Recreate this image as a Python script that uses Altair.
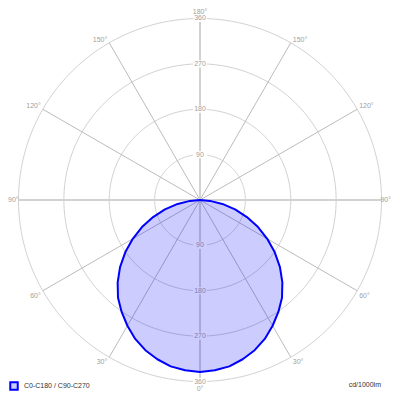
import altair as alt
import pandas as pd

# ---- data ----
gamma = [0, 5, 10, 15, 20, 25, 30, 35, 40, 45, 50, 55, 60, 65, 70, 75, 80, 85, 90]
intensity = [341, 339, 335, 327, 317, 304, 288, 271, 253, 231, 207, 181, 154, 127, 99, 72, 45, 20, 0]
series_name = "C0-C180 / C90-C270"
unit_label = "cd/1000lm"

ring_values = [90, 180, 270, 360]
spoke_thin = [30, 60, 120, 150, 210, 240, 300, 330]
spoke_thick = [0, 90, 180, 270]
label_left_upper = [-150, -120]
label_left_lower = [-60, -30]
label_right_upper = [150, 120]
label_right_lower = [60, 30]
label_top = [180]
label_bottom = [0]

# ---- geometry / style ----
W = 384
R_MAX = 360
D = 380.8
FONT = "Liberation Sans"
GRID = "#d2d2d2"
SPOKE = "#bcbcbc"
LABEL = "#a0a0a0"

xs = alt.Scale(domain=[-D, D], nice=False, zero=False)
ys = alt.Scale(domain=[-D, D], nice=False, zero=False)


def X(f):
    return alt.X(f, type="quantitative", scale=xs, axis=None)


def Y(f):
    return alt.Y(f, type="quantitative", scale=ys, axis=None)


# rings
ring_df = pd.DataFrame([{"r": r, "t": t} for r in ring_values for t in range(0, 361, 2)])
rings = alt.Chart(ring_df).transform_calculate(
    x="datum.r*sin(datum.t*PI/180)", y="-datum.r*cos(datum.t*PI/180)"
).mark_line(color=GRID, strokeWidth=1).encode(
    x=X("x"), y=Y("y"), detail="r:N", order="t:Q"
)


def spokes(angles, color, width):
    return alt.Chart(pd.DataFrame({"a": angles})).transform_calculate(
        x0="0", y0="0",
        x1=f"{R_MAX}*sin(datum.a*PI/180)", y1=f"-{R_MAX}*cos(datum.a*PI/180)",
    ).mark_rule(color=color, strokeWidth=width).encode(
        x=X("x0"), y=Y("y0"), x2="x1:Q", y2="y1:Q"
    )


thin = spokes(spoke_thin, SPOKE, 1)
thick = spokes(spoke_thick, GRID, 2)

# ring value labels (top and bottom)
rl_df = pd.DataFrame([{"v": v, "s": s} for v in ring_values for s in [1, -1]])
rl = alt.Chart(rl_df).transform_calculate(x="0", y="datum.v*datum.s", label="'' + datum.v")
boxes = rl.mark_point(
    shape="M-1,-0.5H1V0.5H-1Z", filled=True, color="white", opacity=1, size=196, strokeWidth=0
).encode(x=X("x"), y=Y("y"))
rtext = rl.mark_text(font=FONT, fontSize=7, color=LABEL).encode(
    x=X("x"), y=Y("y"), text="label:N"
)


def angle_labels(angles, align, baseline, dx, dy, r=R_MAX):
    return alt.Chart(pd.DataFrame({"a": angles})).transform_calculate(
        x=f"{r}*sin(datum.a*PI/180)", y=f"-{r}*cos(datum.a*PI/180)",
        label="abs(datum.a) + '°'",
    ).mark_text(font=FONT, fontSize=7, color=LABEL, align=align, baseline=baseline, dx=dx, dy=dy).encode(
        x=X("x"), y=Y("y"), text="label:N"
    )


al = [
    angle_labels(label_left_upper, "right", "alphabetic", -2, -1),
    angle_labels(label_left_lower, "right", "top", -2, 1),
    angle_labels(label_right_upper, "left", "alphabetic", 2, -1),
    angle_labels(label_right_lower, "left", "top", 2, 1),
    angle_labels([-90], "left", "middle", 0, 0, r=D),
    angle_labels([90], "right", "middle", -1, 0, r=D),
    angle_labels(label_top, "center", "top", 0, 0, r=D),
    angle_labels(label_bottom, "center", "bottom", 0, 0, r=D),
]

# intensity distribution
prof_df = pd.DataFrame({"gamma": gamma, "cd": intensity})
prof_df["series"] = series_name
leg = alt.Legend(
    title=None, orient="none", legendX=1, legendY=373, symbolType="square", symbolSize=56,
    symbolStrokeWidth=2, labelFont=FONT, labelFontSize=7, labelColor="#333333", labelOffset=5,
    padding=0,
)
area = alt.Chart(prof_df).transform_calculate(
    y="-datum.cd*cos(datum.gamma*PI/180)",
    xl="-datum.cd*sin(datum.gamma*PI/180)",
    xr="datum.cd*sin(datum.gamma*PI/180)",
).mark_area(orient="horizontal", fillOpacity=1, strokeWidth=2, strokeJoin="round").encode(
    y=Y("y"), x=X("xl"), x2="xr:Q",
    fill=alt.Fill("series:N", scale=alt.Scale(domain=[series_name], range=["rgba(0,0,255,0.2)"]), legend=leg),
    stroke=alt.Stroke("series:N", scale=alt.Scale(domain=[series_name], range=["#0000ff"]), legend=leg),
)

unit = alt.Chart(pd.DataFrame({"u": [unit_label]})).mark_text(
    font=FONT, fontSize=7, color="#333333", align="right", baseline="middle"
).encode(text="u:N", x=alt.value(373), y=alt.value(377))

chart = alt.layer(rings, thin, thick, boxes, rtext, *al, area, unit).properties(
    width=W, height=W,
    padding=0,
    autosize="none",
).configure_view(stroke=None)

chart.save("out.html", embed_options={"renderer": "svg", "actions": False})
